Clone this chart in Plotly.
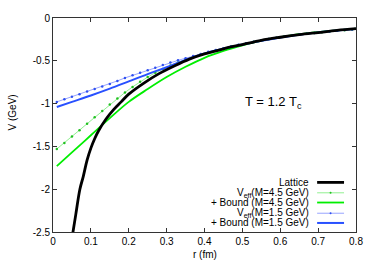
import plotly.graph_objects as go

# ---------------- data ----------------
lattice_r = [0.048, 0.06, 0.071, 0.08, 0.09, 0.10, 0.11, 0.12, 0.14, 0.16, 0.18, 0.20,
             0.24, 0.28, 0.32, 0.36, 0.40, 0.45, 0.50, 0.55, 0.60, 0.65, 0.70, 0.75, 0.80]
lattice_v = [-2.63, -2.30, -2.00, -1.85, -1.66, -1.52, -1.41, -1.32, -1.18, -1.07, -0.98, -0.89,
             -0.76, -0.65, -0.56, -0.48, -0.42, -0.36, -0.31, -0.26, -0.225, -0.195, -0.17, -0.145, -0.125]

veff_r = [0.01, 0.03, 0.05, 0.07, 0.09, 0.11, 0.13, 0.15, 0.17, 0.19,
          0.21, 0.23, 0.25, 0.27, 0.29, 0.31, 0.33, 0.35, 0.37, 0.39,
          0.41, 0.43, 0.45, 0.47, 0.49, 0.51, 0.53, 0.55, 0.57, 0.59,
          0.61, 0.63, 0.65, 0.67, 0.69, 0.71, 0.73, 0.75, 0.77, 0.79]
veff45_v = [-1.53, -1.46, -1.385, -1.31, -1.235, -1.16, -1.085, -1.01, -0.94, -0.87,
            -0.805, -0.745, -0.69, -0.64, -0.595, -0.555, -0.52, -0.485, -0.455, -0.425,
            -0.405, -0.38, -0.358, -0.335, -0.315, -0.295, -0.277, -0.26, -0.245, -0.231,
            -0.218, -0.206, -0.195, -0.185, -0.175, -0.166, -0.158, -0.150, -0.142, -0.135]
veff15_v = [-0.98, -0.95, -0.92, -0.89, -0.86, -0.83, -0.80, -0.77, -0.735, -0.70,
            -0.67, -0.64, -0.61, -0.58, -0.55, -0.52, -0.495, -0.47, -0.445, -0.42,
            -0.395, -0.373, -0.352, -0.332, -0.313, -0.294, -0.276, -0.26, -0.245, -0.231,
            -0.218, -0.206, -0.195, -0.184, -0.174, -0.165, -0.157, -0.149, -0.141, -0.134]

bound_r = [0.01, 0.05, 0.10, 0.15, 0.20, 0.25, 0.30, 0.35, 0.40, 0.45, 0.50, 0.55, 0.60, 0.65, 0.70, 0.75, 0.80]
bound45_v = [-1.73, -1.57, -1.37, -1.17, -0.98, -0.83, -0.69, -0.57, -0.465, -0.385, -0.32, -0.265,
             -0.225, -0.19, -0.165, -0.145, -0.125]
bound15_v = [-1.04, -0.98, -0.905, -0.825, -0.74, -0.655, -0.575, -0.49, -0.415, -0.36, -0.31, -0.265,
             -0.228, -0.195, -0.168, -0.146, -0.127]

x_ticks = [0, 0.1, 0.2, 0.3, 0.4, 0.5, 0.6, 0.7, 0.8]
x_tick_text = ["0", "0.1", "0.2", "0.3", "0.4", "0.5", "0.6", "0.7", "0.8"]
y_ticks = [0, -0.5, -1, -1.5, -2, -2.5]
y_tick_text = ["0", "-0.5", "-1", "-1.5", "-2", "-2.5"]

legend_labels = ["Lattice", "V<sub>eff</sub>(M=4.5 GeV)", "+ Bound (M=4.5 GeV)",
                 "V<sub>eff</sub>(M=1.5 GeV)", "+ Bound (M=1.5 GeV)"]

# ---------------- style ----------------
FONT = "Liberation Sans, Arial, Helvetica, sans-serif"
C_LAT = "#000000"
C_VEFF45_LINE = "#90f090"
C_VEFF45_DOT = "#20c020"
C_B45 = "#00ee00"
C_VEFF15_LINE = "#98a4ff"
C_VEFF15_DOT = "#3050f0"
C_B15 = "#2850ff"

fig = go.Figure()
fig.add_trace(go.Scatter(x=veff_r, y=veff45_v, mode="lines+markers",
                         line=dict(color=C_VEFF45_LINE, width=1),
                         marker=dict(color=C_VEFF45_DOT, size=2.5), showlegend=False))
fig.add_trace(go.Scatter(x=bound_r, y=bound45_v, mode="lines", line_shape="spline",
                         line=dict(color=C_B45, width=1.8), showlegend=False))
fig.add_trace(go.Scatter(x=veff_r, y=veff15_v, mode="lines+markers",
                         line=dict(color=C_VEFF15_LINE, width=1),
                         marker=dict(color=C_VEFF15_DOT, size=2.5), showlegend=False))
fig.add_trace(go.Scatter(x=bound_r, y=bound15_v, mode="lines", line_shape="spline",
                         line=dict(color=C_B15, width=2), showlegend=False))
fig.add_trace(go.Scatter(x=lattice_r, y=lattice_v, mode="lines", line_shape="spline",
                         line=dict(color=C_LAT, width=2.8), showlegend=False))

# plot area in pixels: x 53..357, y 12..232
W, H = 375, 263
L, R, T, B = 53, 357, 12, 232

def px(xp):
    return (xp - L) / (R - L)

def py(yp):
    return (B - yp) / (B - T)

shapes = []
annotations = []
leg_y = [181, 191.7, 201.7, 212.7, 222.7]
leg_line = [(C_LAT, 2.8, None), (C_VEFF45_LINE, 1, C_VEFF45_DOT), (C_B45, 1.8, None),
            (C_VEFF15_LINE, 1, C_VEFF15_DOT), (C_B15, 2, None)]
for lab, yy, (col, w, dot) in zip(legend_labels, leg_y, leg_line):
    annotations.append(dict(xref="paper", yref="paper", x=px(312), y=py(yy),
                            xanchor="right", yanchor="middle", showarrow=False,
                            text=lab, font=dict(size=10, color="black", family=FONT)))
    shapes.append(dict(type="line", xref="paper", yref="paper",
                       x0=px(318), x1=px(345), y0=py(yy), y1=py(yy),
                       line=dict(color=col, width=w)))
    if dot:
        shapes.append(dict(type="circle", xref="paper", yref="paper",
                           x0=px(330.5), x1=px(332.5), y0=py(yy + 1), y1=py(yy - 1),
                           fillcolor=dot, line=dict(width=0)))

annotations.append(dict(xref="paper", yref="paper", x=px(274), y=py(99),
                        xanchor="center", yanchor="middle", showarrow=False,
                        text="T = 1.2 T<sub>c</sub>", font=dict(size=13, color="black", family=FONT)))
annotations.append(dict(xref="paper", yref="paper", x=px(205), y=py(255),
                        xanchor="center", yanchor="middle", showarrow=False,
                        text="r (fm)", font=dict(size=10, color="black", family=FONT)))
annotations.append(dict(xref="paper", yref="paper", x=px(12), y=py(109),
                        xanchor="center", yanchor="middle", showarrow=False, textangle=-90,
                        text="V (GeV)", font=dict(size=10, color="black", family=FONT)))

axis_common = dict(showgrid=False, zeroline=False, ticks="inside", ticklen=4,
                   tickcolor="#333333", showline=True, linecolor="#333333", linewidth=1,
                   mirror="allticks", tickfont=dict(size=10, color="black", family=FONT))

fig.update_layout(
    width=W, height=H,
    margin=dict(l=L, r=W - R, t=T, b=H - B),
    paper_bgcolor="white", plot_bgcolor="white",
    showlegend=False,
    xaxis=dict(range=[0, 0.8], tickvals=x_ticks, ticktext=x_tick_text, **axis_common),
    yaxis=dict(range=[-2.5, 0], tickvals=y_ticks, ticktext=y_tick_text, **axis_common),
    shapes=shapes, annotations=annotations,
)

fig.write_html("out.html", config={"displayModeBar": False},
               post_script="document.body.style.margin='0';document.body.style.overflow='hidden';")
